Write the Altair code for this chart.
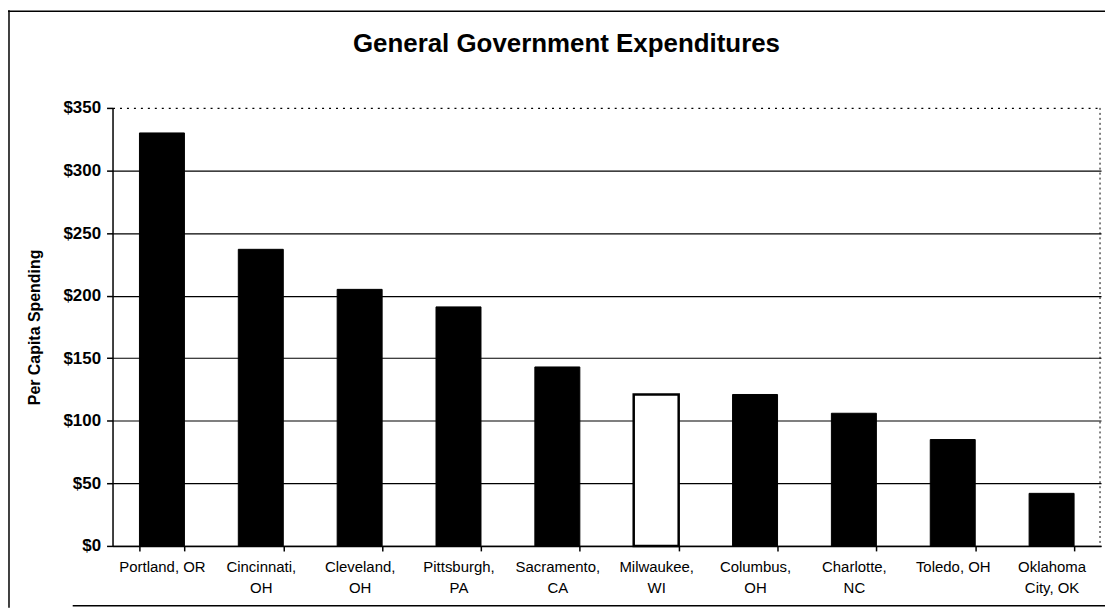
import altair as alt
import pandas as pd

cities = ["Portland, OR", "Cincinnati,\nOH", "Cleveland,\nOH", "Pittsburgh,\nPA",
          "Sacramento,\nCA", "Milwaukee,\nWI", "Columbus,\nOH", "Charlotte,\nNC",
          "Toledo, OH", "Oklahoma\nCity, OK"]
spending = [330, 237, 205, 191, 143, 121, 121, 106, 85, 42]
highlight = "Milwaukee,\nWI"
y_ticks = [0, 50, 100, 150, 200, 250, 300, 350]
title_text = "General Government Expenditures"
y_title = "Per Capita Spending"

df = pd.DataFrame({"city": cities, "spending": spending})
df["hl"] = df["city"] == highlight

W, H = 993, 440
FONT = "Liberation Sans"

bars = alt.Chart(df).mark_bar(stroke="black").encode(
    x=alt.X("city:N", sort=cities, title=None,
            scale=alt.Scale(paddingInner=0.545, paddingOuter=0.2725),
            axis=alt.Axis(labelAngle=0, labelExpr="split(datum.label, '\\n')",
                          labelFont=FONT, labelFontSize=15, labelColor="black",
                          labelLineHeight=21, labelPadding=9, labelBaseline="top",
                          tickBand="extent", tickSize=5, tickColor="black", tickWidth=1.5,
                          domainColor="black", domainWidth=1.5, grid=False)),
    y=alt.Y("spending:Q", title=y_title,
            scale=alt.Scale(domain=[0, 350], nice=False),
            axis=alt.Axis(values=y_ticks, format="$,.0f",
                          labelFont=FONT, labelFontSize=17, labelFontWeight="bold",
                          labelColor="black", labelPadding=6,
                          tickSize=6, tickColor="black", tickWidth=1.5, domainColor="black",
                          domainWidth=1.5,
                          gridColor="black", gridWidth=1.2,
                          gridDash={"condition": {"test": "datum.value === 350", "value": [2, 5]}, "value": []},
                          titleFont=FONT, titleFontSize=16, titleFontWeight="bold",
                          titleColor="black", titleX=-70, titleY=H / 2)),
    color=alt.condition("datum.hl", alt.value("white"), alt.value("black")),
    strokeWidth=alt.condition("datum.hl", alt.value(2.5), alt.value(1)),
)

one = alt.Data(values=[{"t": title_text}])
title = alt.Chart(one).mark_text(font=FONT, fontSize=26, fontWeight="bold",
                                 color="black", align="center", baseline="middle").encode(
    x=alt.value(456), y=alt.value(-64), text="t:N")

frame_top = alt.Chart(one).mark_rule(color="black", strokeWidth=1.5).encode(
    x=alt.value(-105), x2=alt.value(W + 4), y=alt.value(-97))
frame_left = alt.Chart(one).mark_rule(color="black", strokeWidth=1.5).encode(
    x=alt.value(-104), y=alt.value(-98), y2=alt.value(H + 62))
frame_bottom = alt.Chart(one).mark_rule(color="black", strokeWidth=1.5).encode(
    x=alt.value(-40), x2=alt.value(W + 4), y=alt.value(H + 60))
right_edge = alt.Chart(one).mark_rule(color="black", strokeWidth=1, strokeDash=[2, 3]).encode(
    x=alt.value(W - 1), y=alt.value(0), y2=alt.value(H))

chart = alt.layer(bars, title, frame_top, frame_left, frame_bottom, right_edge).properties(
    width=W, height=H,
    autosize=alt.AutoSizeParams(type="none"),
    padding={"left": 105, "top": 99, "right": 4, "bottom": 62},
    background="white",
).configure_view(stroke=None)

chart.save("out.html", embed_options={"renderer": "svg", "actions": False})
